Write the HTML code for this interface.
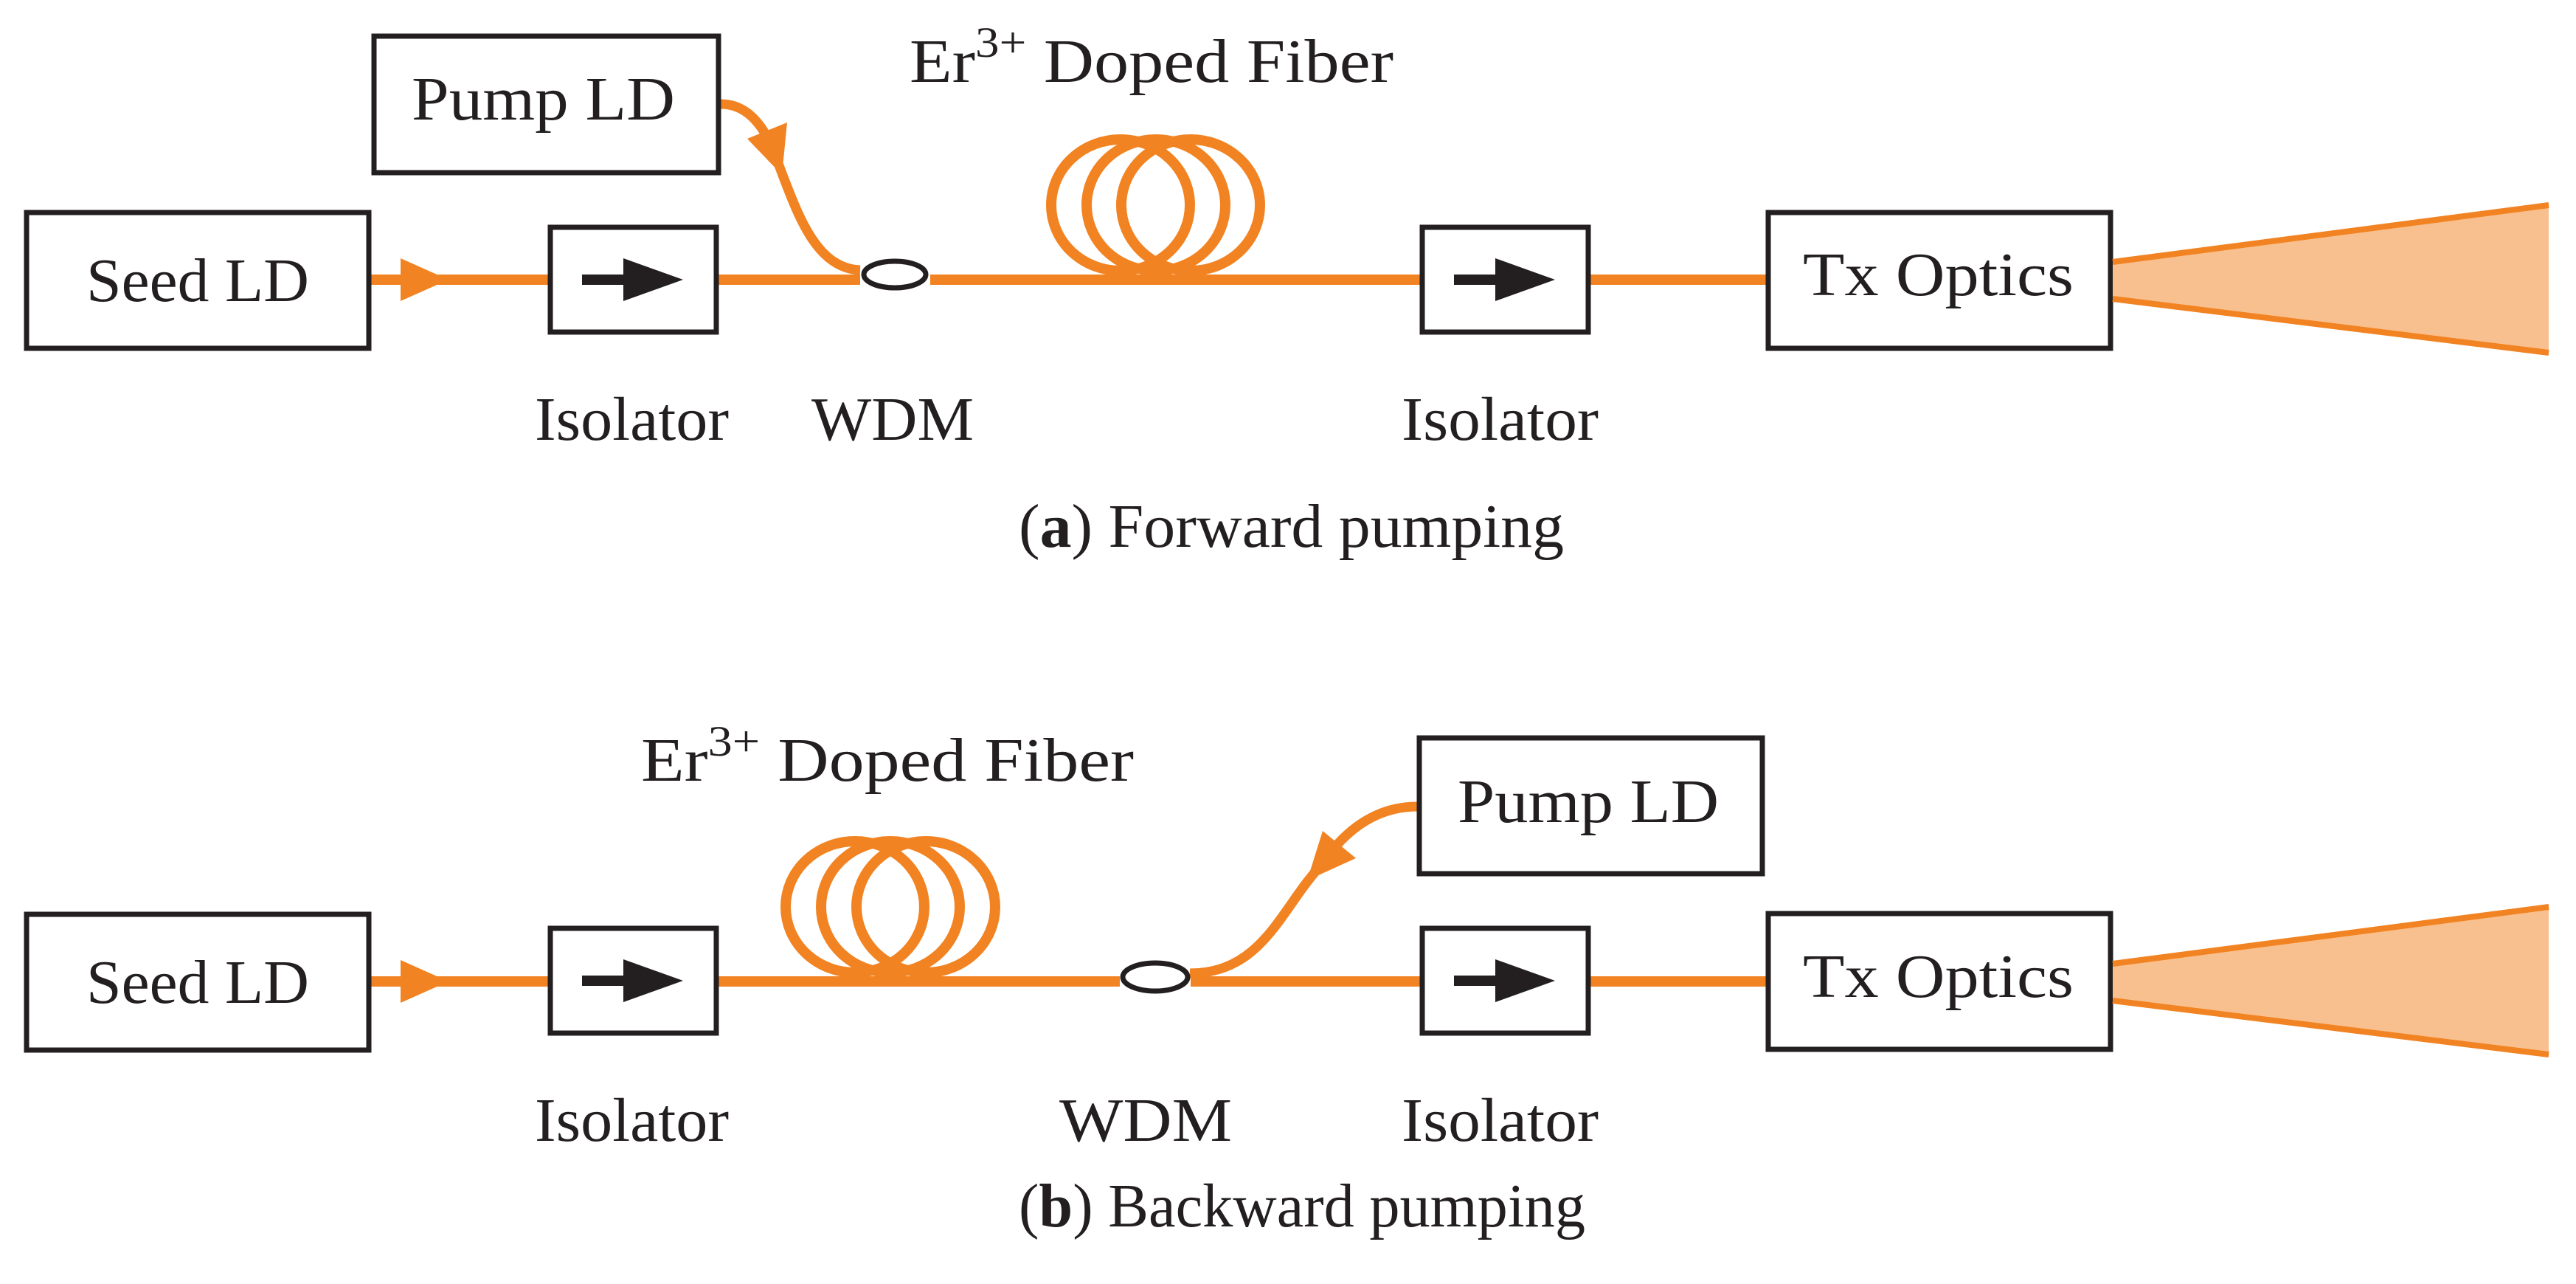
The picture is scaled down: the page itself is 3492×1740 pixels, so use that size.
<!DOCTYPE html>
<html><head><meta charset="utf-8"><style>
html,body{margin:0;padding:0;background:#fff;}
svg{display:block;}
text{font-family:"Liberation Serif",serif;fill:#231f20;font-size:84px;}
</style></head><body>
<svg width="3492" height="1740" viewBox="0 0 3492 1740" xmlns="http://www.w3.org/2000/svg">
<defs>
<g id="iso">
  <rect x="0" y="0" width="225" height="142" fill="#fff" stroke="#231f20" stroke-width="7"/>
  <rect x="43" y="64" width="60" height="14" fill="#231f20"/>
  <polygon points="99,42 180,71 99,100" fill="#231f20"/>
</g>
</defs>

<!-- ===== (a) Forward ===== -->
<g stroke="#f28322" stroke-width="14" fill="none">
  <line x1="503" y1="379" x2="746" y2="379"/>
  <line x1="971" y1="379" x2="1166" y2="379"/>
  <line x1="1261" y1="379" x2="1928" y2="379"/>
  <line x1="2150" y1="379" x2="2394" y2="379"/>
</g>
<g stroke="#f28322" stroke-width="14" fill="none">
  <ellipse cx="1519" cy="278" rx="94" ry="89"/>
  <ellipse cx="1567" cy="278" rx="94" ry="89"/>
  <ellipse cx="1614" cy="278" rx="94" ry="89"/>
  <path stroke-width="13" d="M977,141 C1010,141 1030,165 1045,195 L1062,240 C1085,300 1110,364 1166,366"/>
</g>
<polygon points="1013,188 1067,166 1060,237" fill="#f28322"/>
<polygon points="543,350 608,379 543,408" fill="#f28322"/>
<ellipse cx="1213" cy="372" rx="42" ry="18" fill="#fff" stroke="#231f20" stroke-width="7"/>
<rect x="36" y="288" width="464" height="184" fill="#fff" stroke="#231f20" stroke-width="7"/>
<rect x="507" y="49" width="467" height="185" fill="#fff" stroke="#231f20" stroke-width="7"/>
<use href="#iso" x="746" y="308"/>
<use href="#iso" x="1928" y="308"/>
<rect x="2397" y="288" width="464" height="184" fill="#fff" stroke="#231f20" stroke-width="7"/>
<polygon points="2864,355 3455,275 3455,481 2864,405" fill="#f8c08e"/>
<line x1="2864" y1="355" x2="3455" y2="278" stroke="#f28322" stroke-width="8"/>
<line x1="2864" y1="405" x2="3455" y2="478" stroke="#f28322" stroke-width="8"/>

<text x="117" y="408" textLength="302" lengthAdjust="spacingAndGlyphs">Seed LD</text>
<text x="558" y="162" textLength="357" lengthAdjust="spacingAndGlyphs">Pump LD</text>
<text x="1233" y="111" textLength="656" lengthAdjust="spacingAndGlyphs">Er<tspan dy="-34" font-size="58">3+</tspan><tspan dy="34"> Doped Fiber</tspan></text>
<text x="2444" y="400" textLength="367" lengthAdjust="spacingAndGlyphs">Tx Optics</text>
<text x="725" y="596" textLength="263" lengthAdjust="spacingAndGlyphs">Isolator</text>
<text x="1100" y="596" textLength="220" lengthAdjust="spacingAndGlyphs">WDM</text>
<text x="1900" y="596" textLength="267" lengthAdjust="spacingAndGlyphs">Isolator</text>
<text x="1381" y="741" textLength="739" lengthAdjust="spacingAndGlyphs">(<tspan font-weight="bold">a</tspan>) Forward pumping</text>

<!-- ===== (b) Backward ===== -->
<g stroke="#f28322" stroke-width="14" fill="none">
  <line x1="503" y1="1330" x2="746" y2="1330"/>
  <line x1="971" y1="1330" x2="1518" y2="1330"/>
  <line x1="1614" y1="1330" x2="1928" y2="1330"/>
  <line x1="2150" y1="1330" x2="2394" y2="1330"/>
</g>
<g stroke="#f28322" stroke-width="14" fill="none">
  <ellipse cx="1159" cy="1229" rx="94" ry="89"/>
  <ellipse cx="1207" cy="1229" rx="94" ry="89"/>
  <ellipse cx="1255" cy="1229" rx="94" ry="89"/>
  <path stroke-width="13" d="M1921,1093 C1870,1093 1830,1120 1800,1160 L1772,1195 C1730,1250 1700,1319 1613,1319"/>
</g>
<polygon points="1793,1126 1838,1163 1772,1193" fill="#f28322"/>
<polygon points="543,1301 608,1330 543,1359" fill="#f28322"/>
<ellipse cx="1566" cy="1324" rx="44" ry="19" fill="#fff" stroke="#231f20" stroke-width="7"/>
<rect x="36" y="1239" width="464" height="184" fill="#fff" stroke="#231f20" stroke-width="7"/>
<rect x="1924" y="1000" width="465" height="184" fill="#fff" stroke="#231f20" stroke-width="7"/>
<use href="#iso" x="746" y="1258"/>
<use href="#iso" x="1928" y="1258"/>
<rect x="2397" y="1238" width="464" height="184" fill="#fff" stroke="#231f20" stroke-width="7"/>
<polygon points="2864,1306 3455,1226 3455,1432 2864,1356" fill="#f8c08e"/>
<line x1="2864" y1="1306" x2="3455" y2="1229" stroke="#f28322" stroke-width="8"/>
<line x1="2864" y1="1356" x2="3455" y2="1429" stroke="#f28322" stroke-width="8"/>

<text x="117" y="1359" textLength="302" lengthAdjust="spacingAndGlyphs">Seed LD</text>
<text x="1976" y="1114" textLength="354" lengthAdjust="spacingAndGlyphs">Pump LD</text>
<text x="869" y="1058" textLength="668" lengthAdjust="spacingAndGlyphs">Er<tspan dy="-34" font-size="58">3+</tspan><tspan dy="34"> Doped Fiber</tspan></text>
<text x="2444" y="1351" textLength="367" lengthAdjust="spacingAndGlyphs">Tx Optics</text>
<text x="725" y="1546" textLength="263" lengthAdjust="spacingAndGlyphs">Isolator</text>
<text x="1436" y="1546" textLength="234" lengthAdjust="spacingAndGlyphs">WDM</text>
<text x="1900" y="1546" textLength="267" lengthAdjust="spacingAndGlyphs">Isolator</text>
<text x="1381" y="1662" textLength="768" lengthAdjust="spacingAndGlyphs">(<tspan font-weight="bold">b</tspan>) Backward pumping</text>
</svg>
</body></html>
